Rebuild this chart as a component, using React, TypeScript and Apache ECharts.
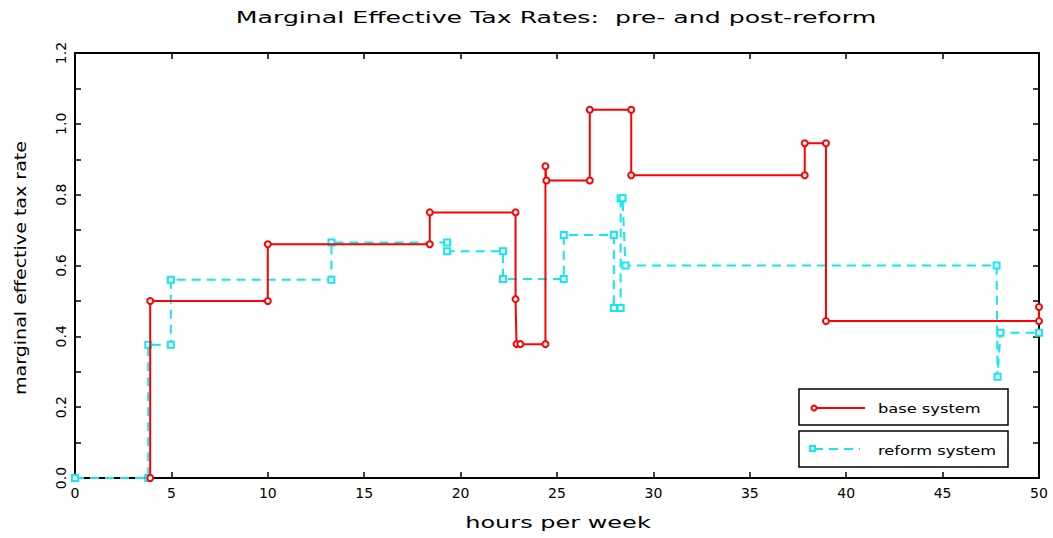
import React, { useEffect, useRef } from "react";
import * as echarts from "echarts";

const titleText = "Marginal Effective Tax Rates:  pre- and post-reform";
const xAxisTitle = "hours per week";
const yAxisTitle = "marginal effective tax rate";
const seriesNames = ["base system", "reform system"];

// [hours per week, marginal effective tax rate]
const baseSystem: [number, number][] = [
  [3.9, 0], [3.9, 0.5], [10, 0.5], [10, 0.66], [18.4, 0.66], [18.4, 0.75],
  [22.85, 0.75], [22.85, 0.505], [22.9, 0.378], [23.1, 0.378], [24.4, 0.378],
  [24.4, 0.88], [24.45, 0.84], [26.7, 0.84], [26.7, 1.04], [28.85, 1.04],
  [28.85, 0.855], [37.85, 0.855], [37.85, 0.945], [38.95, 0.945], [38.95, 0.443],
  [50, 0.443], [50, 0.483],
];

const reformSystem: [number, number][] = [
  [0, 0], [3.8, 0], [3.8, 0.376], [4.97, 0.376], [4.97, 0.56], [13.3, 0.56],
  [13.3, 0.665], [19.3, 0.665], [19.3, 0.64], [22.2, 0.64], [22.2, 0.562],
  [25.35, 0.562], [25.35, 0.686], [27.95, 0.686], [27.95, 0.48], [28.3, 0.48],
  [28.3, 0.79], [28.4, 0.79], [28.55, 0.6], [47.8, 0.6], [47.85, 0.286],
  [48.0, 0.41], [50, 0.41],
];

const xTicks = { min: 0, max: 50, interval: 5 };
const yTicks = { min: 0, max: 1.2, interval: 0.2 };

const RED = "#ff0000";
const CYAN = "#14e6f2";
const FONT = "'DejaVu Sans', sans-serif";

export default function App() {
  const ref = useRef<HTMLDivElement>(null);
  useEffect(() => {
    if (!ref.current) return;
    const chart = echarts.init(ref.current, null, { renderer: "svg" });
    const axisLine = { show: true, onZero: false, lineStyle: { color: "#000", width: 2 } };
    // negative length draws the ticks toward the plot interior
    const tick = () => ({ show: true, inside: false, length: -6, lineStyle: { color: "#000", width: 1.5 } });
    const minor = () => ({ show: true, splitNumber: 2, length: -6, lineStyle: { color: "#000", width: 1.5 } });
    const label = { color: "#000", fontFamily: FONT, fontSize: 14 };
    chart.setOption({
      animation: false,
      backgroundColor: "#fff",
      grid: { left: 75, right: 14, top: 53, bottom: 60, containLabel: false },
      xAxis: [
        {
          type: "value", position: "bottom", ...xTicks,
          axisLine, axisTick: tick(), splitLine: { show: false },
          axisLabel: { ...label, margin: 8 },
        },
        {
          type: "value", position: "top", ...xTicks,
          axisLine, axisTick: tick(), splitLine: { show: false },
          axisLabel: { show: false },
        },
      ],
      yAxis: [
        {
          type: "value", position: "left", ...yTicks,
          axisLine, axisTick: tick(), splitLine: { show: false },
          minorTick: minor(),
          axisLabel: { ...label, rotate: 90, margin: 7, formatter: (v: number) => v.toFixed(1) },
        },
        {
          type: "value", position: "right", ...yTicks,
          axisLine, axisTick: tick(), splitLine: { show: false },
          minorTick: minor(),
          axisLabel: { show: false },
        },
      ],
      series: [
        {
          name: seriesNames[0], type: "line", data: baseSystem,
          symbol: "emptyCircle", symbolSize: 6, showSymbol: true,
          lineStyle: { color: RED, width: 2 },
          itemStyle: { color: RED, borderColor: RED, borderWidth: 2 },
          z: 3,
        },
        {
          name: seriesNames[1], type: "line", data: reformSystem,
          symbol: "emptyRect", symbolSize: 6, showSymbol: true,
          lineStyle: { color: CYAN, width: 2, type: [9, 6] },
          itemStyle: { color: CYAN, borderColor: CYAN, borderWidth: 2 },
          z: 2,
        },
      ],
      graphic: [
        {
          type: "text", x: 556, y: 18, scaleX: 1.68,
          style: { text: titleText, font: `15px ${FONT}`, fill: "#000", textAlign: "center", textVerticalAlign: "middle" },
        },
        {
          type: "text", x: 558, y: 523, scaleX: 1.6,
          style: { text: xAxisTitle, font: `15px ${FONT}`, fill: "#000", textAlign: "center", textVerticalAlign: "middle" },
        },
        {
          type: "text", x: 21, y: 268, rotation: Math.PI / 2, scaleX: 1.19,
          style: { text: yAxisTitle, font: `16px ${FONT}`, fill: "#000", textAlign: "center", textVerticalAlign: "middle" },
        },
        { type: "rect", shape: { x: 799, y: 389, width: 209, height: 36 }, style: { fill: "#fff", stroke: "#000", lineWidth: 1.5 }, z: 10 },
        { type: "line", shape: { x1: 814, y1: 408, x2: 865, y2: 408 }, style: { stroke: RED, lineWidth: 2 }, z: 11 },
        { type: "circle", shape: { cx: 814, cy: 408, r: 2.5 }, style: { fill: "#fff", stroke: RED, lineWidth: 2 }, z: 12 },
        {
          type: "text", x: 878, y: 408, scaleX: 1.25, z: 11,
          style: { text: seriesNames[0], font: `13px ${FONT}`, fill: "#000", textAlign: "left", textVerticalAlign: "middle" },
        },
        { type: "rect", shape: { x: 799, y: 431, width: 209, height: 36 }, style: { fill: "#fff", stroke: "#000", lineWidth: 1.5 }, z: 10 },
        { type: "line", shape: { x1: 814, y1: 449, x2: 860, y2: 449 }, style: { stroke: CYAN, lineWidth: 2, lineDash: [9, 6] }, z: 11 },
        { type: "rect", shape: { x: 810, y: 446, width: 5, height: 5 }, style: { fill: "#fff", stroke: CYAN, lineWidth: 2 }, z: 12 },
        {
          type: "text", x: 878, y: 450, scaleX: 1.25, z: 11,
          style: { text: seriesNames[1], font: `13px ${FONT}`, fill: "#000", textAlign: "left", textVerticalAlign: "middle" },
        },
      ],
    });
    return () => chart.dispose();
  }, []);
  return <div ref={ref} style={{ position: "fixed", left: 0, top: 0, width: 1053, height: 538 }} />;
}
